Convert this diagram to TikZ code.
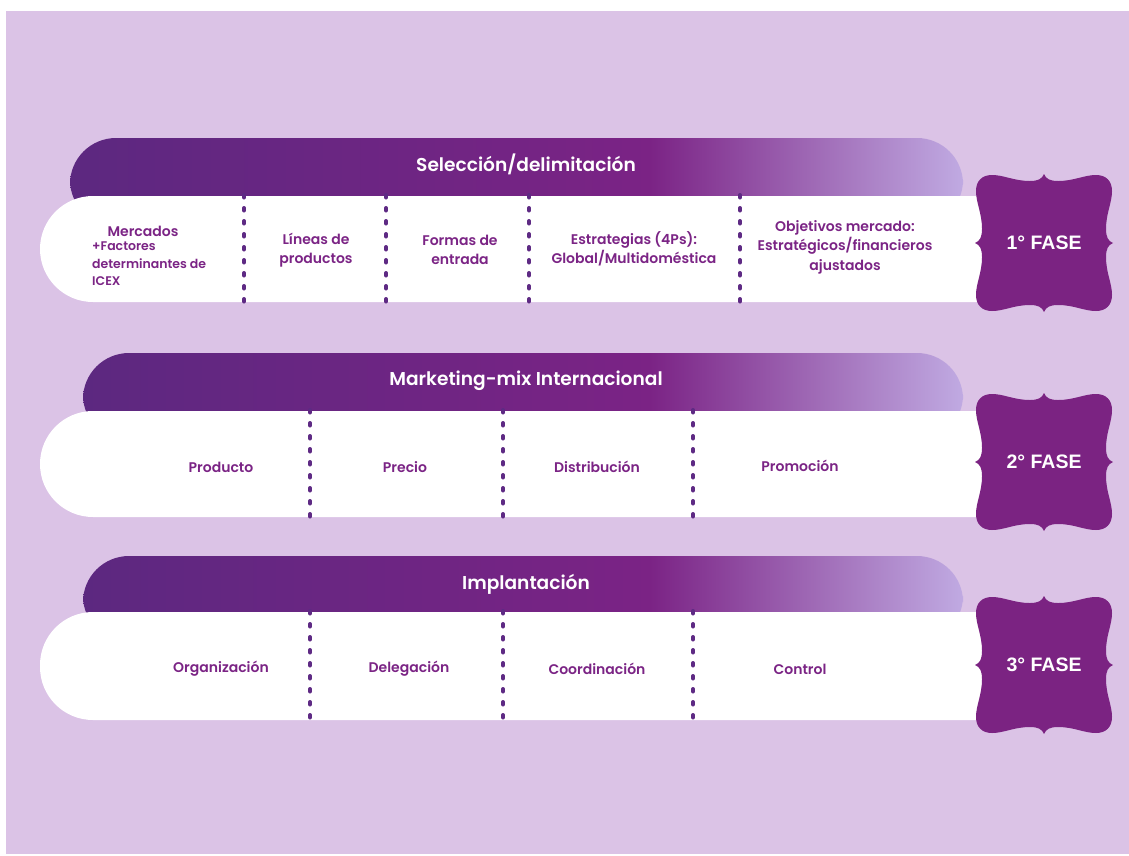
\documentclass[tikz,border=0pt]{standalone}
\usepackage{fontspec}
\setmainfont{Poppins}[UprightFont=* SemiBold, BoldFont=* Bold]
\newfontfamily\badgefont{Liberation Sans}[UprightFont=* Bold]
\definecolor{bgc}{HTML}{DBC3E6}
\definecolor{gA}{HTML}{5C2880}
\definecolor{gB}{HTML}{7B2385}
\definecolor{gC}{HTML}{C0AAE2}
\definecolor{txtc}{HTML}{7B2485}
\definecolor{divc}{HTML}{5E2A84}
\definecolor{badgec}{HTML}{7B2382}
\tikzset{
  lbl/.style={text=txtc, font=\fontsize{14}{19.5}\selectfont, align=center, inner sep=0pt},
  lblL/.style={text=txtc, font=\fontsize{12.5}{17.5}\selectfont, align=left, inner sep=0pt, anchor=north west},
  ttl/.style={text=white, font=\fontsize{18.6}{22}\selectfont, inner sep=0pt},
  bdg/.style={text=white, font=\badgefont\fontsize{19.5}{22}\selectfont, inner sep=0pt},
  divider/.style={draw=divc, line width=4pt, line cap=round, dash pattern=on 2.5pt off 10.5pt},
}
\newcommand{\badgeshape}[2]{%
  \fill[badgec, shift={(#1,#2)}]
    (0,69) .. controls (2,64) and (6,62) .. (14,62) .. controls (30,62) and (40,68) .. (52,68)
    .. controls (62,68) and (68,62) .. (68,52) .. controls (68,40) and (62,30) .. (62,14)
    .. controls (62,6) and (64,2) .. (69,0)
    .. controls (64,-2) and (62,-6) .. (62,-14) .. controls (62,-30) and (68,-40) .. (68,-52)
    .. controls (68,-62) and (62,-68) .. (52,-68) .. controls (40,-68) and (30,-62) .. (14,-62)
    .. controls (6,-62) and (2,-64) .. (0,-69)
    .. controls (-2,-64) and (-6,-62) .. (-14,-62) .. controls (-30,-62) and (-40,-68) .. (-52,-68)
    .. controls (-62,-68) and (-68,-62) .. (-68,-52) .. controls (-68,-40) and (-62,-30) .. (-62,-14)
    .. controls (-62,-6) and (-64,-2) .. (-69,0)
    .. controls (-64,2) and (-62,6) .. (-62,14) .. controls (-62,30) and (-68,40) .. (-68,52)
    .. controls (-68,62) and (-62,68) .. (-52,68) .. controls (-40,68) and (-30,62) .. (-14,62)
    .. controls (-6,62) and (-2,64) .. (0,69) -- cycle;}
% #1 dark left, #2 dark top, #3 white top, #4 white bottom
\newcommand{\rowbars}[4]{%
  \begin{scope}
    \clip[rounded corners=46pt] (#1,#3+30) -- (#1,#2) -- (963,#2) -- (963,#3+30) -- cycle;
    \shade[left color=gA, right color=gB] (#1,#2) rectangle (650,#3+30);
    \shade[left color=gB, right color=gC] (649.5,#2) rectangle (963,#3+30);
  \end{scope}
  \fill[white] (500,#3) [rounded corners=53pt] -- (40,#3) -- (40,#4) -- (500,#4) [sharp corners] -- (982,#4) -- (982,#3) -- cycle;}
\begin{document}
\begin{tikzpicture}[x=1pt,y=-1pt]
\useasboundingbox (0,0) rectangle (1129,855);
\fill[white] (0,0) rectangle (1129,855);
\fill[bgc] (6,11) rectangle (1129,854);

% Row 1
\rowbars{70}{138}{196}{302}
\node[ttl] (t1) at (526,164) {Selección/delimitación};
\foreach \x in {244,386,529,740} \draw[divider] (\x,195) -- (\x,305);
\node[lbl] (m1) at (143,231) {Mercados};
\node[lblL] (m1b) at (92,242) {+Factores\\determinantes de\\ICEX};
\node[lbl] (m2) at (316,250) {Líneas de\\productos};
\node[lbl] (m3) at (460,250) {Formas de\\entrada};
\node[lbl] (m4) at (634,249) {Estrategias (4Ps):\\Global/Multidoméstica};
\node[lbl] (m5) at (845,247) {Objetivos mercado:\\Estratégicos/financieros\\ajustados};
\badgeshape{1044}{243}
\node[bdg] (f1) at (1044,243) {1° FASE};

% Row 2
\rowbars{83}{353}{411}{517}
\node[ttl] (t2) at (526,381) {Marketing-mix Internacional};
\foreach \x in {310,503,693} \draw[divider] (\x,410) -- (\x,520);
\node[lbl] (p1) at (221,467) {Producto};
\node[lbl] (p2) at (405,467) {Precio};
\node[lbl] (p3) at (597,467) {Distribución};
\node[lbl] (p4) at (800,466) {Promoción};
\badgeshape{1044}{462}
\node[bdg] (f2) at (1044,462) {2° FASE};

% Row 3
\rowbars{83}{556}{612}{720}
\node[ttl] (t3) at (526,584) {Implantación};
\foreach \x in {310,503,693} \draw[divider] (\x,611) -- (\x,723);
\node[lbl] (i1) at (221,669) {Organización};
\node[lbl] (i2) at (409,669) {Delegación};
\node[lbl] (i3) at (597,669) {Coordinación};
\node[lbl] (i4) at (800,669) {Control};
\badgeshape{1044}{665}
\node[bdg] (f3) at (1044,665) {3° FASE};
\end{tikzpicture}
\end{document}
